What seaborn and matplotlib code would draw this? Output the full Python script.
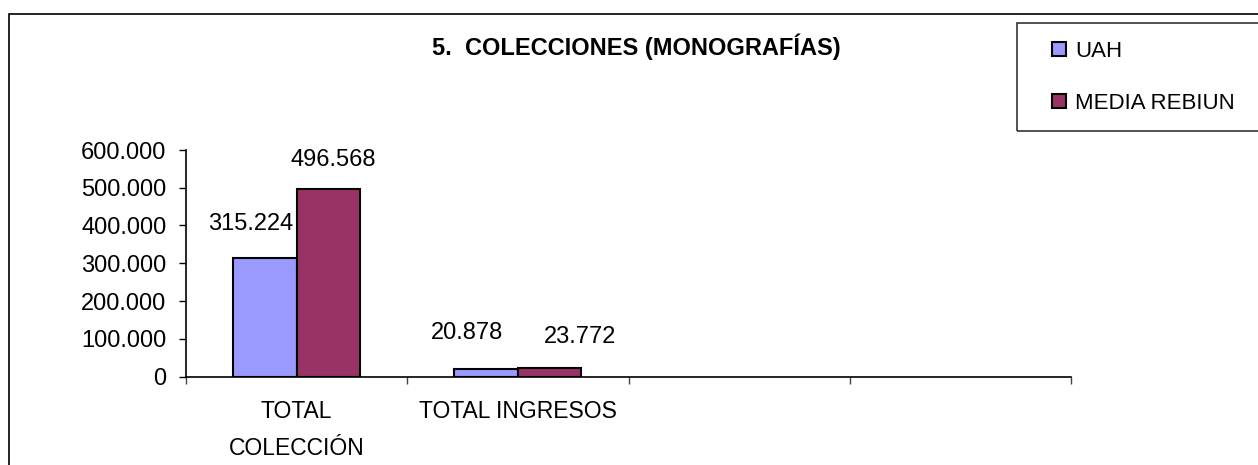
import numpy as np
import pandas as pd
import seaborn as sns
import matplotlib.pyplot as plt
from matplotlib.lines import Line2D
from matplotlib.patches import Rectangle

# data
categories = ['TOTAL\nCOLECCIÓN', 'TOTAL INGRESOS']
series = ['UAH', 'MEDIA REBIUN']
uah = [315224, 20878]
rebiun = [496568, 23772]
yticks = [0, 100000, 200000, 300000, 400000, 500000, 600000]
ytick_labels = ['0', '100.000', '200.000', '300.000', '400.000', '500.000', '600.000']
title = '5.  COLECCIONES (MONOGRAFÍAS)'

colors = ['#9999FF', '#993366']

df = pd.DataFrame({
    'categoria': categories * 2,
    'serie': [series[0]] * len(categories) + [series[1]] * len(categories),
    'valor': uah + rebiun,
})

sns.set_style('white')
plt.rcParams['font.family'] = ['Liberation Sans', 'DejaVu Sans']
plt.rcParams['text.color'] = 'black'
plt.rcParams['xtick.color'] = 'black'
plt.rcParams['ytick.color'] = 'black'

fig = plt.figure(figsize=(12.58, 4.65), dpi=100)
ax = fig.add_axes([186 / 1258, 1 - 376.5 / 465, 885 / 1258, 226.5 / 465])

sns.barplot(data=df, x='categoria', y='valor', hue='serie', order=categories,
            hue_order=series, palette=colors, saturation=1, width=0.574, gap=0,
            edgecolor='black', linewidth=1.5, legend=False, ax=ax)

ax.set_xlim(-0.5, 3.5)
ax.set_ylim(0, 600000)
ax.set_xlabel('')
ax.set_ylabel('')
ax.set_yticks(yticks)
ax.set_yticklabels(ytick_labels, fontsize=17)
ax.set_xticks([0, 1])
ax.set_xticklabels(categories, fontsize=16.5, linespacing=1.75)
ax.set_xticks([-0.5, 0.5, 1.5, 2.5, 3.5], minor=True)
ax.tick_params(axis='x', which='major', length=0, pad=17)
ax.tick_params(axis='x', which='minor', length=5, width=1, color='#444444', direction='out', bottom=True)
ax.tick_params(axis='y', length=5, width=1, direction='out', left=True, pad=9)
for s in ['top', 'right']:
    ax.spines[s].set_visible(False)
for s in ['left', 'bottom']:
    ax.spines[s].set_color('black')
    ax.spines[s].set_linewidth(1.2)

# value labels, placed like the excel chart
label_offsets = [[(-14, 34), (-19, 36)], [(5, 29), (30, 31)]]
for ci, cont in enumerate(ax.containers):
    vals = uah if ci == 0 else rebiun
    for bi, (bar, v) in enumerate(zip(cont, vals)):
        dx, dy = label_offsets[ci][bi]
        ax.annotate(f'{v:,}'.replace(',', '.'),
                    (bar.get_x() + bar.get_width() / 2, bar.get_height()),
                    xytext=(dx * 0.72, dy * 0.72), textcoords='offset points',
                    ha='center', va='center', fontsize=17)

fig.text(636 / 1258, 1 - 47 / 465, title, ha='center', va='center',
         fontsize=17, fontweight='bold')

# outer chart frame (runs off the right and bottom edges)
fig.patches.append(Rectangle((9 / 1258, -0.2), 1.2, 0.2 + 1 - 14 / 465,
                             transform=fig.transFigure, fill=False,
                             edgecolor='black', linewidth=1.2, clip_on=False))
# legend box, also cut by the right edge
fig.patches.append(Rectangle((1017 / 1258, 1 - 131 / 465), 0.3, 108 / 465,
                             transform=fig.transFigure, fill=False,
                             edgecolor='#333333', linewidth=1.2, clip_on=False))

handles = [Line2D([], [], marker='s', linestyle='none', markersize=10,
                  markerfacecolor=c, markeredgecolor='black', markeredgewidth=1.5)
           for c in colors]
leg = fig.legend(handles, series, loc='upper left',
                 bbox_to_anchor=(1017 / 1258, 1 - 23 / 465), fontsize=16,
                 frameon=False, borderpad=0.8, labelspacing=1.4, handlelength=2.2,
                 handletextpad=-0.4, borderaxespad=0)

fig.savefig('out.png', dpi=100, facecolor='white')
